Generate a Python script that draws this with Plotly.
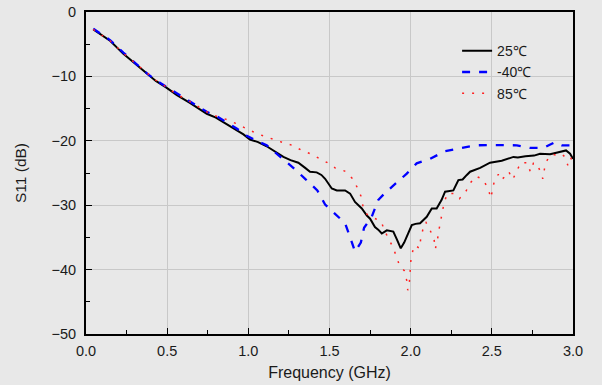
import plotly.graph_objects as go

# 25°C
f25 = [0.045,0.10,0.15,0.23,0.30,0.374,0.43,0.493,0.56,0.64,0.70,0.744,0.80,0.826,0.88,0.928,0.97,1.01,1.06,1.113,1.16,1.216,1.26,1.308,1.35,1.38,1.421,1.45,1.473,1.50,1.514,1.545,1.596,1.627,1.657,1.699,1.73,1.75,1.78,1.80,1.822,1.853,1.893,1.915,1.939,1.96,1.976,2.007,2.03,2.058,2.099,2.13,2.16,2.19,2.212,2.263,2.294,2.32,2.346,2.366,2.428,2.489,2.561,2.60,2.633,2.66,2.707,2.76,2.797,2.859,2.92,2.957,2.982,3.0]
s25 = [-2.7,-3.6,-4.5,-6.5,-8.0,-9.6,-10.7,-11.7,-12.9,-14.1,-15.1,-15.8,-16.4,-16.8,-17.6,-18.4,-19.0,-19.8,-20.2,-20.85,-21.6,-22.5,-23.0,-23.4,-24.2,-24.8,-24.9,-25.3,-25.9,-27.0,-27.4,-27.7,-27.7,-28.2,-29.5,-30.5,-31.6,-32.1,-33.4,-33.8,-34.4,-33.9,-34.1,-35.3,-36.7,-35.8,-34.9,-33.1,-32.9,-32.8,-31.8,-30.5,-30.5,-29.2,-27.9,-27.7,-26.1,-26.0,-25.3,-24.8,-24.2,-23.4,-23.1,-22.8,-22.5,-22.6,-22.4,-22.3,-22.0,-22.1,-21.7,-21.5,-22.0,-22.8]

# -40°C
fm40 = [0.045,0.10,0.15,0.23,0.30,0.374,0.43,0.493,0.56,0.64,0.70,0.744,0.80,0.88,0.928,0.99,1.05,1.113,1.195,1.277,1.35,1.425,1.473,1.534,1.596,1.63,1.657,1.693,1.713,1.76,1.80,1.842,1.914,1.976,2.037,2.12,2.212,2.30,2.397,2.489,2.571,2.654,2.736,2.818,2.89,2.931,2.982,3.0]
sm40 = [-2.6,-3.5,-4.4,-6.3,-7.9,-9.5,-10.6,-11.6,-12.7,-13.9,-14.8,-15.5,-16.1,-17.3,-18.1,-19.2,-20.0,-20.7,-22.4,-24.2,-25.9,-27.7,-29.9,-31.4,-32.8,-35.2,-37.2,-35.8,-33.5,-31.8,-29.2,-28.1,-26.5,-25.1,-23.5,-22.8,-21.6,-21.2,-20.7,-20.65,-20.65,-20.7,-21.1,-21.1,-20.2,-20.7,-20.7,-21.0]

# 85°C
f85 = [0.045,0.10,0.15,0.23,0.30,0.374,0.43,0.493,0.56,0.64,0.70,0.75,0.805,0.867,0.922,0.984,1.045,1.099,1.154,1.216,1.271,1.323,1.38,1.437,1.487,1.534,1.594,1.639,1.668,1.694,1.705,1.73,1.79,1.82,1.836,1.863,1.89,1.91,1.929,1.961,1.976,1.982,1.99,1.994,1.998,2.002,2.013,2.027,2.054,2.062,2.075,2.093,2.12,2.144,2.152,2.165,2.173,2.185,2.193,2.206,2.226,2.267,2.30,2.341,2.372,2.403,2.438,2.452,2.479,2.493,2.503,2.514,2.54,2.557,2.583,2.604,2.629,2.654,2.678,2.719,2.737,2.756,2.777,2.799,2.814,2.824,2.838,2.869,2.896,2.927,2.951,2.968,2.985,3.0]
s85 = [-2.7,-3.6,-4.5,-6.4,-7.9,-9.5,-10.6,-11.6,-12.8,-13.9,-14.9,-15.6,-16.2,-16.7,-17.3,-18.1,-18.8,-19.3,-19.8,-20.3,-20.7,-21.4,-22.0,-22.7,-23.4,-24.2,-24.7,-25.8,-27.1,-28.6,-30.0,-31.4,-32.2,-32.6,-33.8,-35.1,-36.5,-37.8,-39.2,-40.2,-41.7,-43.2,-42.7,-41.3,-39.8,-38.3,-37.1,-36.2,-36.7,-35.2,-33.8,-32.6,-33.9,-35.3,-36.8,-35.4,-34.0,-32.5,-31.0,-29.6,-28.2,-28.2,-29.0,-27.8,-26.4,-25.5,-25.9,-26.3,-27.5,-28.9,-27.8,-26.4,-25.2,-26.1,-25.5,-24.8,-26.0,-24.8,-23.4,-23.4,-24.8,-23.5,-23.5,-24.8,-25.9,-24.4,-23.1,-22.1,-22.2,-22.0,-22.5,-23.8,-22.6,-23.4]

x_ticks = [0.0, 0.5, 1.0, 1.5, 2.0, 2.5, 3.0]
x_labels = ["0.0", "0.5", "1.0", "1.5", "2.0", "2.5", "3.0"]
y_ticks = [0, -10, -20, -30, -40, -50]

fig = go.Figure()
fig.add_trace(go.Scatter(x=f25, y=s25, mode="lines", name="25℃",
                         line=dict(color="black", width=2)))
fig.add_trace(go.Scatter(x=fm40, y=sm40, mode="lines", name="-40℃",
                         line=dict(color="#0000ff", width=2.3, dash="8px,9px")))
fig.add_trace(go.Scatter(x=f85, y=s85, mode="lines", name="85℃",
                         line=dict(color="#ff2020", width=1.5, dash="2px,8px")))

bg = "#e8e8e8"
font = dict(family="Liberation Sans, Arial, sans-serif", size=14.5, color="#1a1a1a")
fig.update_layout(
    width=602, height=385,
    margin=dict(l=86, r=29, t=12, b=51, autoexpand=False),
    paper_bgcolor=bg, plot_bgcolor=bg,
    font=font,
    showlegend=True,
    legend=dict(x=0.762, y=0.928, xanchor="left", yanchor="top",
                bgcolor="rgba(0,0,0,0)", font=dict(size=14),
                tracegroupgap=0, itemwidth=30),
    xaxis=dict(range=[0, 3.0], tickvals=x_ticks, ticktext=x_labels, automargin=False,
               showline=True, linecolor="black", linewidth=2, mirror=True,
               ticks="inside", ticklen=6, tickwidth=1, tickcolor="black",
               ticklabelstandoff=3,
               showgrid=True, gridcolor="#c8c8c8", gridwidth=1, zeroline=False,
               minor=dict(ticks="inside", ticklen=4, dtick=0.25, tick0=0, tickcolor="black", showgrid=False),
               title=dict(text="Frequency (GHz)", standoff=8, font=dict(size=16))),
    yaxis=dict(range=[-50, 0], tickvals=y_ticks, automargin=False,
               showline=True, linecolor="black", linewidth=2, mirror=True,
               ticks="inside", ticklen=6, tickwidth=1, tickcolor="black",
               ticklabelstandoff=5,
               showgrid=True, gridcolor="#c8c8c8", gridwidth=1, zeroline=False,
               minor=dict(ticks="inside", ticklen=4, dtick=5, tick0=0, tickcolor="black", showgrid=False),
               title=dict(text="S11 (dB)", standoff=21, font=dict(size=15.5))),
)
fig.write_html("out.html")
